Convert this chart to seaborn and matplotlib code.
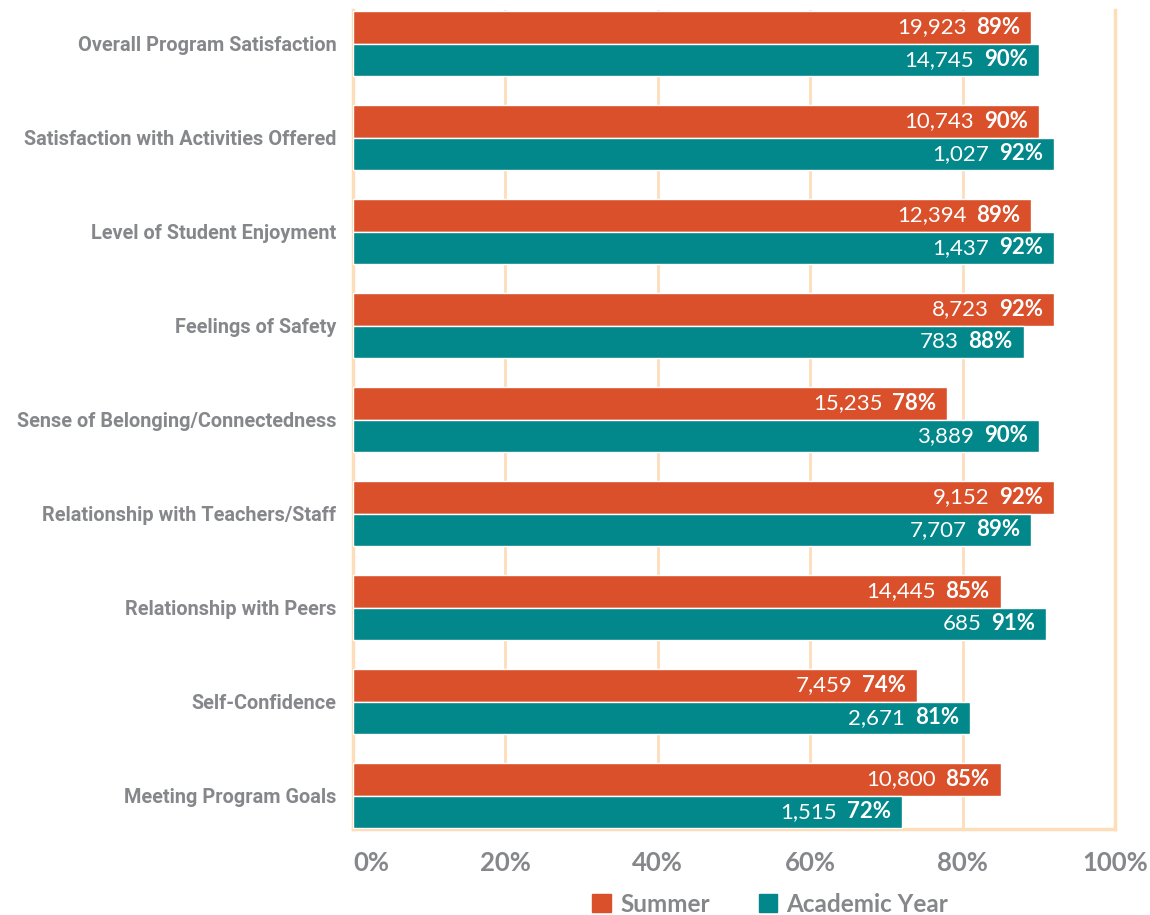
import pandas as pd
import seaborn as sns
import matplotlib.pyplot as plt
from matplotlib.patches import Patch

sns.set_style('white')
plt.rcParams['font.family'] = ['Roboto', 'DejaVu Sans']

categories = ['Overall Program Satisfaction', 'Satisfaction with Activities Offered',
              'Level of Student Enjoyment', 'Feelings of Safety',
              'Sense of Belonging/Connectedness', 'Relationship with Teachers/Staff',
              'Relationship with Peers', 'Self-Confidence', 'Meeting Program Goals']
summer_pct = [89, 90, 89, 92, 78, 92, 85, 74, 85]
summer_n = [19923, 10743, 12394, 8723, 15235, 9152, 14445, 7459, 10800]
academic_pct = [90, 92, 92, 88, 90, 89, 91, 81, 72]
academic_n = [14745, 1027, 1437, 783, 3889, 7707, 685, 2671, 1515]
periods = ['Summer', 'Academic Year']
xticks = [0, 20, 40, 60, 80, 100]

orange = '#D9502A'
teal = '#02878A'
grid_c = '#FDDDBA'
gray = '#85878A'
lato = ['Lato', 'DejaVu Sans']

df = pd.DataFrame({
    'Category': categories * 2,
    'Period': [periods[0]] * len(categories) + [periods[1]] * len(categories),
    'Pct': summer_pct + academic_pct,
    'N': summer_n + academic_n,
})

fig = plt.figure(figsize=(11.5, 9.15), dpi=100)
ax = fig.add_axes([0.307, 0.094, 0.6626, 0.895])

sns.barplot(data=df, y='Category', x='Pct', hue='Period', orient='h',
            palette=[orange, teal], width=0.69, dodge=True, legend=False,
            saturation=1, ax=ax, zorder=3)

ax.set_xlim(0, 100)
ax.set_ylim(len(categories) - 1 + 0.356, -0.356)
ax.set_xlabel('')
ax.set_ylabel('')

# grid lines
for x in xticks[1:-1]:
    ax.axvline(x, color=grid_c, lw=2, zorder=1)
ax.spines['top'].set_visible(False)
for side in ['left', 'bottom', 'right']:
    ax.spines[side].set_color(grid_c)
    ax.spines[side].set_linewidth(2.5)
    ax.spines[side].set_zorder(2)

ax.set_xticks(xticks)
ax.set_xticklabels([f'{x}%' for x in xticks], fontsize=18.5, fontweight='bold',
                   color=gray, family=lato)
ax.get_xticklabels()[0].set_ha('left')
ax.tick_params(axis='x', length=0, pad=16)
ax.tick_params(axis='y', length=0, pad=12)
for t in ax.get_yticklabels():
    t.set_fontsize(14.3)
    t.set_fontweight('bold')
    t.set_color(gray)
    t.set_va('center_baseline')

# value labels inside bars
for bars, pcts, ns in zip(ax.containers, [summer_pct, academic_pct], [summer_n, academic_n]):
    for bar, p, n in zip(bars, pcts, ns):
        yc = bar.get_y() + bar.get_height() / 2
        t = ax.annotate(f'{p}%', xy=(bar.get_width(), yc), xytext=(-8, 0),
                        textcoords='offset points', ha='right', va='center',
                        color='white', fontsize=16, fontweight='bold',
                        family=lato, zorder=5)
        ax.annotate(f'{n:,}', xy=(0, 0.5), xycoords=t, xytext=(-7, 0),
                    textcoords='offset points', ha='right', va='center',
                    color='white', fontsize=16, fontweight='normal',
                    family=lato, zorder=5)

handles = [Patch(color=orange), Patch(color=teal)]
leg = fig.legend(handles, periods, loc='center', bbox_to_anchor=(0.67, 0.012),
                 ncol=2, frameon=False, handlelength=0.75, handleheight=0.75,
                 handletextpad=0.4, columnspacing=2.0,
                 prop={'size': 17.5, 'weight': 'bold', 'family': lato})
for txt in leg.get_texts():
    txt.set_color(gray)

fig.savefig('out.png', dpi=100)
